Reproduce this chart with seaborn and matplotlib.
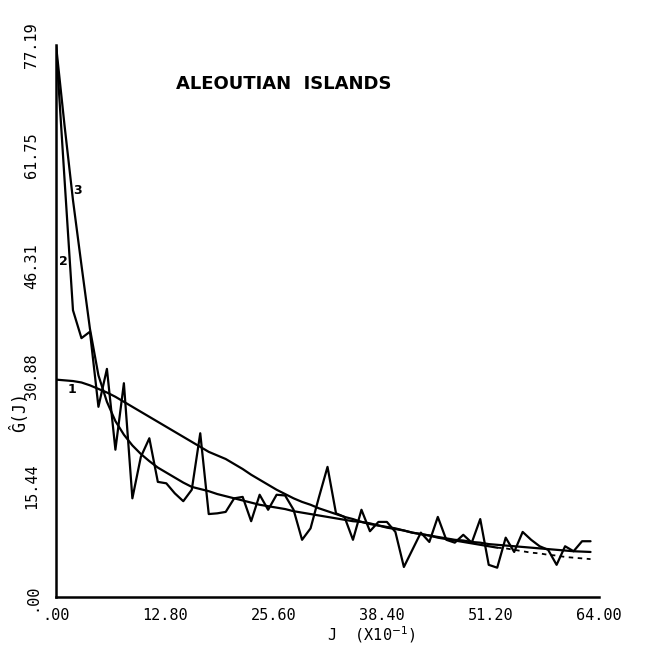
import numpy as np
import pandas as pd
import matplotlib
matplotlib.use("Agg")
import matplotlib.pyplot as plt
import seaborn as sns

# Lag index J (units of 0.1) and the three spectral estimates G(J)
lag = list(range(64))

raw_g = [77.19, 58.5, 40.1, 36.2, 37.1, 26.6, 31.9, 20.6, 29.9, 13.8,
         19.6, 22.2, 16.1, 15.9, 14.5, 13.4, 15.0, 22.9, 11.6, 11.7,
         11.9, 13.8, 14.0, 10.6, 14.3, 12.2, 14.3, 14.2, 12.2, 8.0,
         9.6, 14.0, 18.2, 11.7, 11.2, 8.0, 12.2, 9.2, 10.5, 10.5,
         9.1, 4.2, 6.6, 9.0, 7.7, 11.2, 8.0, 7.6, 8.7, 7.6,
         10.9, 4.5, 4.1, 8.3, 6.3, 9.1, 8.0, 7.1, 6.6, 4.5,
         7.1, 6.4, 7.8, 7.8]

fit1_g = [30.4, 30.3, 30.2, 30.0, 29.6, 29.1, 28.6, 28.0, 27.3, 26.6,
          25.9, 25.2, 24.5, 23.8, 23.1, 22.4, 21.7, 21.0, 20.3, 19.8,
          19.3, 18.6, 17.9, 17.1, 16.4, 15.7, 15.0, 14.4, 13.8, 13.3,
          12.9, 12.4, 12.0, 11.6, 11.2, 10.9, 10.5, 10.2, 10.0, 9.8,
          9.6, 9.3, 9.0, 8.8, 8.6, 8.4, 8.2, 8.0, 7.9, 7.7,
          7.6, 7.4, 7.3, 7.2, 7.1, 7.0, 6.9, 6.8, 6.7, 6.6,
          6.5, 6.4, 6.35, 6.3]

fit3_g = [77.19, 66.0, 55.5, 46.4, 37.5, 31.0, 27.3, 24.6, 22.7, 21.2,
          20.0, 19.0, 18.1, 17.4, 16.7, 16.0, 15.4, 15.1, 14.8, 14.4,
          14.1, 13.8, 13.5, 13.2, 12.9, 12.7, 12.5, 12.3, 12.0, 11.8,
          11.6, 11.4, 11.2, 11.0, 10.8, 10.6, 10.5, 10.3, 10.0, 9.7,
          9.5, 9.3, 9.0, 8.8, 8.6, 8.3, 8.1, 7.9, 7.7, 7.5,
          7.3, 7.1, 6.9, 6.8, 6.6, 6.4, 6.2, 6.1, 5.9, 5.8,
          5.6, 5.5, 5.4, 5.3]

x_ticks = [0.0, 12.8, 25.6, 38.4, 51.2, 64.0]
x_tick_labels = [".00", "12.80", "25.60", "38.40", "51.20", "64.00"]
y_ticks = [0.0, 15.44, 30.88, 46.31, 61.75, 77.19]
y_tick_labels = [".00", "15.44", "30.88", "46.31", "61.75", "77.19"]

sns.set_theme(style="white")
plt.rcParams["font.family"] = ["DejaVu Sans Mono", "DejaVu Sans"]
plt.rcParams["text.color"] = "black"
plt.rcParams["axes.labelcolor"] = "black"

df = pd.DataFrame({"J": lag, "raw": raw_g, "fit1": fit1_g, "fit3": fit3_g})
tail_start = 52

fig = plt.figure(figsize=(6.49, 6.45), dpi=100)
ax = fig.add_axes([0.0863, 0.0744, 0.8367, 0.8558])

lw = 1.6
sns.lineplot(data=df, x="J", y="raw", ax=ax, color="black", lw=lw)
sns.lineplot(data=df, x="J", y="fit1", ax=ax, color="black", lw=lw)
sns.lineplot(data=df[df.J <= tail_start], x="J", y="fit3", ax=ax,
             color="black", lw=lw)
sns.lineplot(data=df[df.J >= tail_start], x="J", y="fit3", ax=ax,
             color="black", lw=1.3, linestyle=(0, (2.5, 2.5)))

ax.set_xlim(0, 64)
ax.set_ylim(0, 77.19)
ax.set_xticks(x_ticks)
ax.set_xticklabels(x_tick_labels, fontsize=11)
ax.set_yticks(y_ticks)
ax.set_yticklabels(y_tick_labels, fontsize=11, rotation=90, va="center")

for side in ("top", "right"):
    ax.spines[side].set_visible(False)
for side in ("left", "bottom"):
    ax.spines[side].set_linewidth(1.8)
    ax.spines[side].set_color("black")

ax.tick_params(axis="both", direction="inout", length=10, width=1.6,
               colors="black", labelcolor="black")
ax.tick_params(axis="x", pad=3)
ax.tick_params(axis="y", pad=7)

ax.set_xlabel("J  (X10$^{-1}$)", fontsize=11)
ax.xaxis.set_label_coords(0.58, -0.049)
ax.xaxis.label.set_va("top")
ax.set_ylabel("Ĝ(J)", fontsize=12)
ax.yaxis.set_label_coords(-0.05, 0.335)

ax.text(0.42, 0.93, "ALEOUTIAN  ISLANDS", transform=ax.transAxes,
        ha="center", va="center", fontsize=13, fontweight="bold",
        family="DejaVu Sans", color="black")

for label, jx, gy in [("1", 1.9, 29.0), ("2", 0.9, 46.9), ("3", 2.5, 56.9)]:
    ax.text(jx, gy, label, fontsize=9, fontweight="bold", ha="center",
            va="center", family="DejaVu Sans", color="black")

fig.savefig("out.png", dpi=100)
